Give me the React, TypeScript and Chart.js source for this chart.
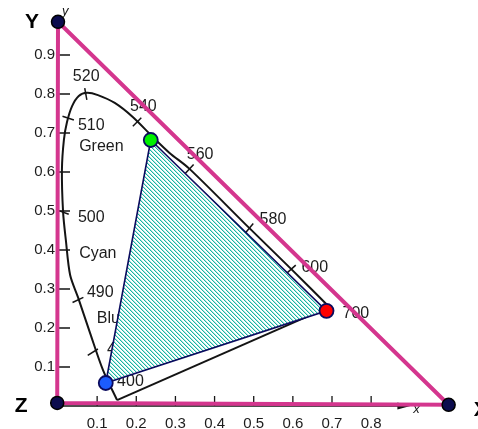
import React, { useEffect, useRef } from 'react';
import { Chart, registerables } from 'chart.js';

Chart.register(...registerables);

// Spectral locus, 400 nm (bottom left) round to 700 nm (right corner)
const LOCUS_X = [0.151, 0.115, 0.082, 0.051, 0.031, 0.020, 0.013, 0.010, 0.015, 0.023, 0.036, 0.053, 0.074, 0.102, 0.145, 0.191, 0.240, 0.285, 0.336, 0.489, 0.596, 0.693];
const LOCUS_Y = [0.015, 0.092, 0.187, 0.279, 0.336, 0.426, 0.497, 0.605, 0.682, 0.728, 0.769, 0.795, 0.803, 0.797, 0.777, 0.741, 0.692, 0.649, 0.608, 0.456, 0.351, 0.254];

// Wavelength marks crossing the locus
const MARK_NM = [480, 490, 500, 510, 520, 540, 560, 580, 600];
const MARK_X = [0.089, 0.051, 0.013, 0.026, 0.071, 0.202, 0.336, 0.489, 0.596];
const MARK_Y = [0.138, 0.272, 0.497, 0.738, 0.800, 0.728, 0.608, 0.456, 0.351];

// Text placed along the locus
const LABEL_TEXT = ['520', '510', '540', '560', '580', '600', '700', '500', '490', '480', '400', 'Green', 'Cyan', 'Blue'];
const LABEL_X = [0.038, 0.051, 0.184, 0.329, 0.515, 0.622, 0.727, 0.051, 0.074, 0.125, 0.151, 0.054, 0.054, 0.099];
const LABEL_Y = [0.844, 0.718, 0.767, 0.644, 0.477, 0.354, 0.238, 0.482, 0.292, 0.144, 0.062, 0.664, 0.392, 0.223];

// RGB primaries (green, red, blue)
const PRIMARY_NAMES = ['Green', 'Red', 'Blue'];
const PRIMARY_X = [0.237, 0.686, 0.122];
const PRIMARY_Y = [0.682, 0.244, 0.059];

// XYZ reference triangle corners
const XYZ_NAMES = ['X', 'Y', 'Z'];
const XYZ_X = [0.998, 0.0, -0.002];
const XYZ_Y = [0.003, 0.985, 0.008];

// Axis tick values
const X_TICKS = [0.1, 0.2, 0.3, 0.4, 0.5, 0.6, 0.7, 0.8];
const Y_TICKS = [0.1, 0.2, 0.3, 0.4, 0.5, 0.6, 0.7, 0.8, 0.9];
const X_AXIS_END = 0.89;
const Y_AXIS_END = 0.985;

const MARK_ANGLE = [-32, -25, 20, 18, 80, -45, -47, -50, -42];
const FONT = 'Arial, "Liberation Sans", Helvetica, sans-serif';
const MAGENTA = '#d4368e';
const NAVY = '#0b0b5e';

function pts(xs: number[], ys: number[]) {
  return xs.map((x, i) => ({ x, y: ys[i] }));
}

function makeHatch(): CanvasPattern | string {
  const tile = document.createElement('canvas');
  tile.width = 4;
  tile.height = 4;
  const c = tile.getContext('2d');
  if (!c) return '#9adcd3';
  c.fillStyle = '#ffffff';
  c.fillRect(0, 0, 4, 4);
  for (let i = 0; i < 4; i++) {
    c.fillStyle = '#17b5a3';
    c.fillRect(i, i, 1, 1);
    c.fillStyle = '#b2e6df';
    c.fillRect((i + 1) % 4, i, 1, 1);
  }
  const p = c.createPattern(tile, 'repeat');
  return p || '#9adcd3';
}

const overlay = {
  id: 'cieOverlay',
  beforeDatasetsDraw(chart: any) {
    const { ctx } = chart;
    const xs = chart.scales.x;
    const ys = chart.scales.y;
    const x0 = xs.getPixelForValue(0);
    const y0 = ys.getPixelForValue(0);
    ctx.save();
    ctx.strokeStyle = '#151515';
    ctx.fillStyle = '#151515';
    ctx.lineWidth = 1.5;
    // axis lines
    const ax = xs.getPixelForValue(X_AXIS_END);
    ctx.beginPath();
    ctx.moveTo(x0, y0);
    ctx.lineTo(ax, y0);
    ctx.moveTo(x0, y0);
    ctx.lineTo(x0, ys.getPixelForValue(Y_AXIS_END));
    ctx.stroke();
    // arrow head on x axis
    ctx.beginPath();
    ctx.moveTo(ax + 4, y0);
    ctx.lineTo(ax - 9, y0 - 3.5);
    ctx.lineTo(ax - 9, y0 + 3.5);
    ctx.closePath();
    ctx.fill();
    // inward tick marks
    ctx.lineWidth = 1.3;
    ctx.beginPath();
    X_TICKS.forEach((v) => {
      const px = xs.getPixelForValue(v);
      ctx.moveTo(px, y0);
      ctx.lineTo(px, y0 - 10);
    });
    Y_TICKS.forEach((v) => {
      const py = ys.getPixelForValue(v);
      ctx.moveTo(x0, py);
      ctx.lineTo(x0 + 12, py);
    });
    ctx.stroke();
    // axis names
    ctx.font = `italic 13px ${FONT}`;
    ctx.textBaseline = 'middle';
    ctx.textAlign = 'left';
    ctx.fillText('x', ax + 7, y0 + 3);
    ctx.fillText('y', x0 + 4, ys.getPixelForValue(Y_AXIS_END) - 10);
    // locus labels
    ctx.font = `16px ${FONT}`;
    ctx.fillStyle = '#1c1c1c';
    LABEL_TEXT.forEach((t, i) => {
      ctx.fillText(t, xs.getPixelForValue(LABEL_X[i]), ys.getPixelForValue(LABEL_Y[i]));
    });
    ctx.restore();
  },
  afterDatasetsDraw(chart: any) {
    const { ctx } = chart;
    const xs = chart.scales.x;
    const ys = chart.scales.y;
    ctx.save();
    ctx.font = `bold 21px ${FONT}`;
    ctx.fillStyle = '#000';
    ctx.textBaseline = 'middle';
    const offsets: Record<string, [number, number, CanvasTextAlign]> = {
      X: [25, 5, 'left'],
      Y: [-26, 0, 'center'],
      Z: [-36, 3, 'center'],
    };
    XYZ_NAMES.forEach((n, i) => {
      const [dx, dy, al] = offsets[n];
      ctx.textAlign = al;
      ctx.fillText(n, xs.getPixelForValue(XYZ_X[i]) + dx, ys.getPixelForValue(XYZ_Y[i]) + dy);
    });
    ctx.restore();
  },
};

export default function App() {
  const ref = useRef<HTMLCanvasElement | null>(null);

  useEffect(() => {
    const canvas = ref.current;
    if (!canvas) return;
    const hatch = makeHatch();
    const locus = pts(LOCUS_X, LOCUS_Y);
    const n = LOCUS_X.length - 1;
    const purple = [
      { x: LOCUS_X[n], y: LOCUS_Y[n] },
      { x: LOCUS_X[0], y: LOCUS_Y[0] },
    ];
    const primaries = pts(PRIMARY_X, PRIMARY_Y);
    const gamut = [...primaries, primaries[0]];
    const xyz = pts(XYZ_X, XYZ_Y);
    // Z -> Y -> X -> Z
    const ref3 = [xyz[2], xyz[1], xyz[0], xyz[2]];

    const chart = new Chart(canvas, {
      type: 'scatter',
      data: {
        datasets: [
          {
            label: 'Spectral locus',
            data: locus,
            showLine: true,
            tension: 0.3,
            borderColor: '#141414',
            borderWidth: 2,
            pointRadius: 0,
            fill: false,
            clip: false,
            order: 7,
          } as any,
          {
            label: 'Line of purples',
            data: purple,
            showLine: true,
            borderColor: '#141414',
            borderWidth: 2,
            pointRadius: 0,
            fill: false,
            clip: false,
            order: 7,
          },
          {
            label: 'Wavelength marks (nm)',
            data: pts(MARK_X, MARK_Y).map((p, i) => ({ ...p, nm: MARK_NM[i] })),
            showLine: false,
            pointStyle: 'line',
            rotation: MARK_ANGLE,
            pointRadius: 6,
            borderColor: '#141414',
            borderWidth: 1.5,
            clip: false,
            order: 6,
          } as any,
          {
            label: 'RGB gamut',
            data: gamut,
            showLine: true,
            tension: 0,
            borderColor: NAVY,
            borderWidth: 1.6,
            backgroundColor: hatch as any,
            fill: 'shape',
            pointRadius: 0,
            clip: false,
            order: 5,
          } as any,
          {
            label: 'XYZ triangle',
            data: ref3,
            showLine: true,
            tension: 0,
            borderColor: MAGENTA,
            borderWidth: 4,
            pointRadius: 0,
            fill: false,
            clip: false,
            order: 4,
          },
          {
            label: XYZ_NAMES.join(''),
            data: xyz,
            showLine: false,
            pointRadius: 6.5,
            pointBackgroundColor: '#0c0c4e',
            pointBorderColor: '#000000',
            pointBorderWidth: 1.5,
            clip: false,
            order: 3,
          },
          {
            label: PRIMARY_NAMES.join(', '),
            data: primaries,
            showLine: false,
            pointRadius: 7,
            pointBackgroundColor: ['#00f000', '#ff0000', '#1c5cff'],
            pointBorderColor: NAVY,
            pointBorderWidth: 1.8,
            clip: false,
            order: 2,
          },
        ],
      },
      options: {
        responsive: false,
        animation: false,
        events: [],
        layout: { padding: { left: 0, top: 16, right: 8, bottom: 0 } },
        plugins: {
          legend: { display: false },
          tooltip: { enabled: false },
        },
        scales: {
          x: {
            type: 'linear',
            min: 0,
            max: 1.05,
            grid: { display: false, drawTicks: false },
            border: { display: false },
            ticks: {
              stepSize: 0.1,
              autoSkip: false,
              maxRotation: 0,
              padding: 9,
              color: '#1c1c1c',
              font: { family: FONT, size: 15 },
              callback: (v: any) => {
                const r = Math.round(Number(v) * 10);
                return r >= 1 && r <= 8 ? (r / 10).toFixed(1) : '';
              },
            },
            afterFit: (s: any) => {
              s.height = 23;
            },
          },
          y: {
            type: 'linear',
            min: 0,
            max: 1,
            grid: { display: false, drawTicks: false },
            border: { display: false },
            ticks: {
              stepSize: 0.1,
              autoSkip: false,
              padding: 3,
              color: '#1c1c1c',
              font: { family: FONT, size: 15 },
              callback: (v: any) => {
                const r = Math.round(Number(v) * 10);
                return r >= 1 && r <= 9 ? (r / 10).toFixed(1) : '';
              },
            },
            afterFit: (s: any) => {
              s.width = 58;
            },
          },
        },
      },
      plugins: [overlay],
    });
    return () => chart.destroy();
  }, []);

  return (
    <div style={{ position: 'fixed', left: 0, top: 0, width: 478, height: 429, background: '#fff', overflow: 'hidden' }}>
      <canvas ref={ref} width={478} height={429} style={{ display: 'block' }} />
    </div>
  );
}
